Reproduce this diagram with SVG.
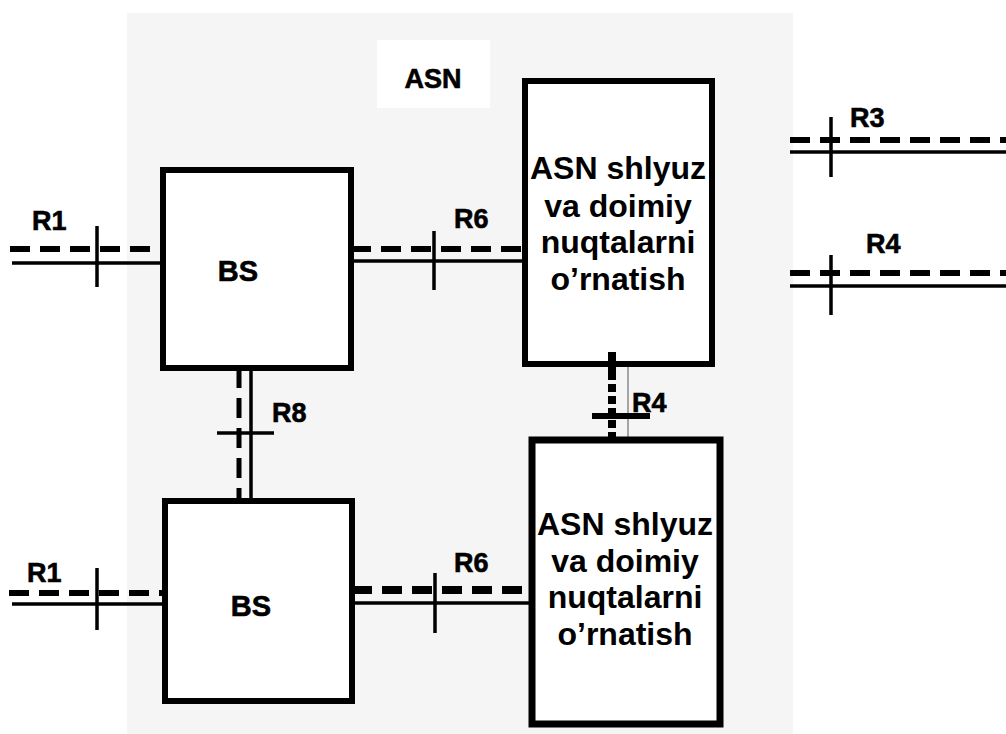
<svg xmlns="http://www.w3.org/2000/svg" width="1006" height="734" viewBox="0 0 1006 734">
<style>
.box{fill:#fff;stroke:#000;stroke-width:6}
.sol{stroke:#000;stroke-width:3.5;fill:none}
.dash{stroke:#000;stroke-width:6;stroke-dasharray:20 10;fill:none}
.tick{stroke:#000;stroke-width:3.5}
.lbl{font-family:"Liberation Sans",Arial,sans-serif;font-weight:bold;font-size:27px;fill:#000;stroke:#000;stroke-width:0.6}
.gw{font-family:"Liberation Sans",Arial,sans-serif;font-weight:bold;font-size:32px;fill:#000;text-anchor:middle}
</style>
<rect width="1006" height="734" fill="#fff"/>
<rect x="127" y="13" width="666" height="721" fill="#f5f5f5"/>
<rect x="377" y="40" width="113" height="68" fill="#fff"/>
<text class="lbl" x="433" y="88" text-anchor="middle">ASN</text>

<g id="connectors">
  <!-- R1 top -->
  <line class="dash" x1="10" y1="249" x2="163" y2="249"/>
  <line class="sol" x1="12" y1="263" x2="163" y2="263"/>
  <line class="tick" x1="97" y1="226" x2="97" y2="287"/>
  <text class="lbl" x="32" y="230">R1</text>
  <!-- R6 top -->
  <line class="dash" x1="351" y1="249" x2="525" y2="249"/>
  <line class="sol" x1="351" y1="261" x2="525" y2="261"/>
  <line class="tick" x1="434" y1="231" x2="434" y2="290"/>
  <text class="lbl" x="454" y="228">R6</text>
  <!-- R3 -->
  <line class="dash" x1="790" y1="140" x2="1006" y2="140"/>
  <line class="sol" x1="790" y1="152" x2="1006" y2="152"/>
  <line class="tick" x1="831" y1="117" x2="831" y2="177"/>
  <text class="lbl" x="850" y="127">R3</text>
  <!-- R4 right -->
  <line class="dash" x1="790" y1="273" x2="1006" y2="273"/>
  <line class="sol" x1="790" y1="286" x2="1006" y2="286"/>
  <line class="tick" x1="831" y1="255" x2="831" y2="315"/>
  <text class="lbl" x="866" y="253">R4</text>
  <!-- R8 -->
  <line class="dash" x1="239" y1="368" x2="239" y2="501" style="stroke-width:5"/>
  <line class="sol" x1="251" y1="368" x2="251" y2="501"/>
  <line class="tick" x1="217" y1="433" x2="274" y2="433"/>
  <text class="lbl" x="272" y="422">R8</text>
  <!-- R4 middle -->
  <line x1="628" y1="364" x2="628" y2="440" stroke="#555" stroke-width="1"/>
  <line x1="612" y1="372" x2="612" y2="447" stroke="#000" stroke-width="8" stroke-dasharray="8 4"/>
  <line x1="592" y1="416" x2="650" y2="416" stroke="#000" stroke-width="6"/>
  <text class="lbl" x="632" y="412">R4</text>
  <!-- R1 bottom -->
  <line class="dash" x1="9" y1="593" x2="165" y2="593"/>
  <line class="sol" x1="12" y1="604" x2="165" y2="604"/>
  <line class="tick" x1="97" y1="568" x2="97" y2="630"/>
  <text class="lbl" x="27" y="582">R1</text>
  <!-- R6 bottom -->
  <line class="dash" x1="352" y1="590" x2="532" y2="590" style="stroke-width:8"/>
  <line class="sol" x1="352" y1="603" x2="532" y2="603"/>
  <line class="tick" x1="435" y1="573" x2="435" y2="633"/>
  <text class="lbl" x="454" y="572">R6</text>
</g>

<g id="bs1">
  <rect class="box" x="163" y="170" width="188" height="198"/>
  <text class="lbl" x="238" y="281" text-anchor="middle" style="font-size:29px">BS</text>
</g>
<g id="bs2">
  <rect class="box" x="165" y="501" width="187" height="200"/>
  <text class="lbl" x="251" y="616" text-anchor="middle" style="font-size:29px">BS</text>
</g>
<g id="gw1">
  <rect class="box" x="525" y="81" width="187" height="283"/>
  <text class="gw" x="618" y="179">ASN shlyuz</text>
  <text class="gw" x="618" y="217">va doimiy</text>
  <text class="gw" x="618" y="253">nuqtalarni</text>
  <text class="gw" x="618" y="290">o’rnatish</text>
</g>
<g id="gw2">
  <rect class="box" x="532" y="440" width="188" height="284" style="stroke-width:7"/>
  <text class="gw" x="625" y="535">ASN shlyuz</text>
  <text class="gw" x="625" y="572">va doimiy</text>
  <text class="gw" x="625" y="608">nuqtalarni</text>
  <text class="gw" x="625" y="645">o’rnatish</text>
</g>
<line x1="612" y1="352" x2="612" y2="372" stroke="#000" stroke-width="8"/>
</svg>
